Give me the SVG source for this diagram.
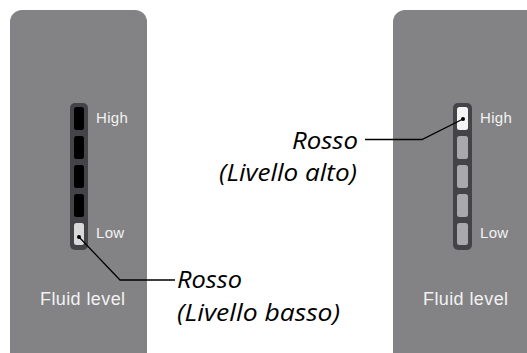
<svg xmlns="http://www.w3.org/2000/svg" width="527" height="353" viewBox="0 0 527 353">
<style>
.panel{fill:#838385}
.bar{fill:#444448}
.seg-off{fill:#000}
.seg-dim{fill:#a9a9ab}
.lbl{font-family:"Liberation Sans",Arial,sans-serif;fill:#f2f2f2;font-size:15px;letter-spacing:0.3px}
.title{font-family:"Liberation Sans",Arial,sans-serif;fill:#f2f2f2;font-size:18px;letter-spacing:0.4px}
.call{font-family:"Open Sans","Liberation Sans",sans-serif;font-style:italic;font-size:23.5px;fill:#000}
.wire{fill:none;stroke:#000;stroke-width:1.3}
</style>
<rect width="527" height="353" fill="#fff"/>
<g id="panel-left">
<rect class="panel" x="10" y="10" width="137" height="360" rx="12"/>
<rect class="bar" x="70" y="103" width="18" height="147" rx="5"/>
<rect class="seg-off" x="74" y="107" width="10" height="23" rx="2.5"/>
<rect class="seg-off" x="74" y="136" width="10" height="23" rx="2.5"/>
<rect class="seg-off" x="74" y="165" width="10" height="23" rx="2.5"/>
<rect class="seg-off" x="74" y="194" width="10" height="23" rx="2.5"/>
<rect fill="#d9d9d9" x="74" y="223" width="10" height="22" rx="2.5"/>
<circle cx="79" cy="237" r="2"/>
<text class="lbl" x="96" y="123">High</text>
<text class="lbl" x="96" y="238">Low</text>
<text class="title" x="40" y="305">Fluid level</text>
</g>
<g id="panel-right">
<rect class="panel" x="393" y="10" width="150" height="360" rx="12"/>
<rect class="bar" x="453" y="103" width="19" height="147" rx="5"/>
<rect fill="#f4f4f4" x="457" y="107" width="11" height="23" rx="2.5"/>
<rect class="seg-dim" x="457" y="136" width="11" height="23" rx="2.5"/>
<rect class="seg-dim" x="457" y="165" width="11" height="23" rx="2.5"/>
<rect class="seg-dim" x="457" y="194" width="11" height="23" rx="2.5"/>
<rect class="seg-dim" x="457" y="223" width="11" height="22" rx="2.5"/>
<circle cx="463" cy="119" r="2"/>
<text class="lbl" x="480" y="123">High</text>
<text class="lbl" x="480" y="238">Low</text>
<text class="title" x="423" y="305">Fluid level</text>
</g>
<g id="connectors">
<polyline class="wire" points="79,237 120,280 175,280"/>
<polyline class="wire" points="463,119 422,139.5 365,139.5"/>
</g>
<g id="callout-low">
<text class="call" x="177" y="288" textLength="65" lengthAdjust="spacingAndGlyphs">Rosso</text>
<text class="call" x="177" y="321" textLength="163" lengthAdjust="spacingAndGlyphs">(Livello basso)</text>
</g>
<g id="callout-high">
<text class="call" x="292" y="149" textLength="66" lengthAdjust="spacingAndGlyphs">Rosso</text>
<text class="call" x="219" y="181" textLength="138" lengthAdjust="spacingAndGlyphs">(Livello alto)</text>
</g>
</svg>
